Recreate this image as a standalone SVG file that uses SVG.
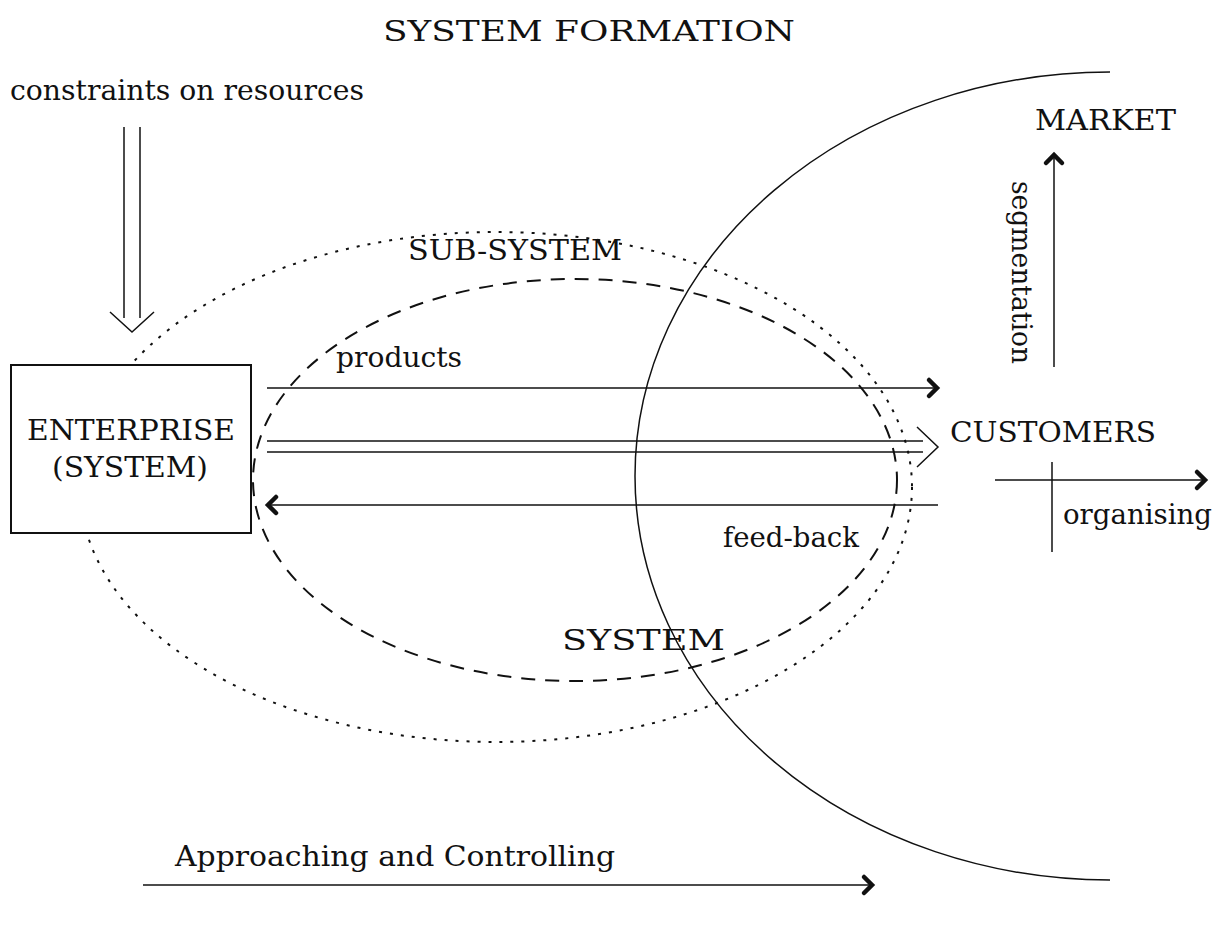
<svg xmlns="http://www.w3.org/2000/svg" width="1223" height="950" viewBox="0 0 1223 950">
  <style>
    text { font-family: "DejaVu Serif", "Liberation Serif", serif; font-size: 28px; fill: #111; }
    .line { fill: none; stroke: #111; stroke-width: 1.5; }
    .dotted { fill: none; stroke: #111; stroke-width: 2; stroke-dasharray: 3 8; }
    .dashed { fill: none; stroke: #111; stroke-width: 2; stroke-dasharray: 14 10; }
    .head { fill: none; stroke: #111; stroke-width: 4.5; stroke-linecap: round; stroke-linejoin: miter; }
    .open { fill: none; stroke: #111; stroke-width: 1.5; }
  </style>
  <defs>
    <marker id="chev" markerUnits="userSpaceOnUse" markerWidth="24" markerHeight="24" viewBox="-12 -12 24 24" refX="0" refY="0" orient="auto" overflow="visible">
      <path d="M-8,-8 L0,0 L-8,8" class="head"/>
    </marker>
  </defs>

  <rect width="1223" height="950" fill="#fff"/>

  <!-- heading -->
  <text x="383" y="41" textLength="412" lengthAdjust="spacingAndGlyphs">SYSTEM FORMATION</text>

  <!-- system boundaries -->
  <g id="system-boundary">
    <ellipse class="dotted" cx="496" cy="487" rx="416" ry="255"/>
    <text x="562" y="650" textLength="163" lengthAdjust="spacingAndGlyphs">SYSTEM</text>
  </g>
  <g id="sub-system">
    <ellipse class="dashed" cx="575" cy="480" rx="322" ry="201"/>
    <text x="408" y="260" textLength="214" lengthAdjust="spacingAndGlyphs">SUB-SYSTEM</text>
  </g>
  <g id="market">
    <path class="line" d="M1110,72 A475,404 0 0 0 1110,880"/>
    <text x="1035" y="130" textLength="141" lengthAdjust="spacingAndGlyphs">MARKET</text>
  </g>

  <!-- nodes -->
  <g id="enterprise">
    <rect x="11" y="365" width="240" height="168" fill="#fff" stroke="#111" stroke-width="2"/>
    <text x="27" y="440" textLength="208" lengthAdjust="spacingAndGlyphs">ENTERPRISE</text>
    <text x="52" y="477" textLength="156" lengthAdjust="spacingAndGlyphs">(SYSTEM)</text>
  </g>
  <g id="constraints">
    <text x="10" y="100" textLength="354" lengthAdjust="spacingAndGlyphs">constraints on resources</text>
  </g>
  <g id="customers">
    <text x="950" y="442" textLength="206" lengthAdjust="spacingAndGlyphs">CUSTOMERS</text>
  </g>

  <!-- connectors -->
  <g id="connectors">
    <!-- constraints input (double-line arrow) -->
    <line class="line" x1="124" y1="127" x2="124" y2="318"/>
    <line class="line" x1="140" y1="127" x2="140" y2="318"/>
    <polyline class="open" points="110,312 132,332 154,312"/>

    <!-- products -->
    <line class="line" x1="267" y1="388" x2="937" y2="388" marker-end="url(#chev)"/>
    <text x="336" y="367" textLength="126" lengthAdjust="spacingAndGlyphs">products</text>

    <!-- double flow to customers -->
    <line class="line" x1="267" y1="441" x2="923" y2="441"/>
    <line class="line" x1="267" y1="452" x2="923" y2="452"/>
    <polyline class="open" points="917,427 938,447 917,467"/>

    <!-- feed-back -->
    <line class="line" x1="938" y1="505" x2="268" y2="505" marker-end="url(#chev)"/>
    <text x="723" y="547" textLength="136" lengthAdjust="spacingAndGlyphs">feed-back</text>

    <!-- segmentation -->
    <line class="line" x1="1054" y1="367" x2="1054" y2="155" marker-end="url(#chev)"/>
    <text transform="translate(1012,181) rotate(90)" x="0" y="0" textLength="183" lengthAdjust="spacingAndGlyphs">segmentation</text>

    <!-- organising -->
    <line class="line" x1="995" y1="480" x2="1205" y2="480" marker-end="url(#chev)"/>
    <line class="line" x1="1052" y1="462" x2="1052" y2="552"/>
    <text x="1063" y="524" textLength="149" lengthAdjust="spacingAndGlyphs">organising</text>

    <!-- approaching and controlling -->
    <line class="line" x1="143" y1="885" x2="872" y2="885" marker-end="url(#chev)"/>
    <text x="175" y="866" textLength="440" lengthAdjust="spacingAndGlyphs">Approaching and Controlling</text>
  </g>
</svg>
